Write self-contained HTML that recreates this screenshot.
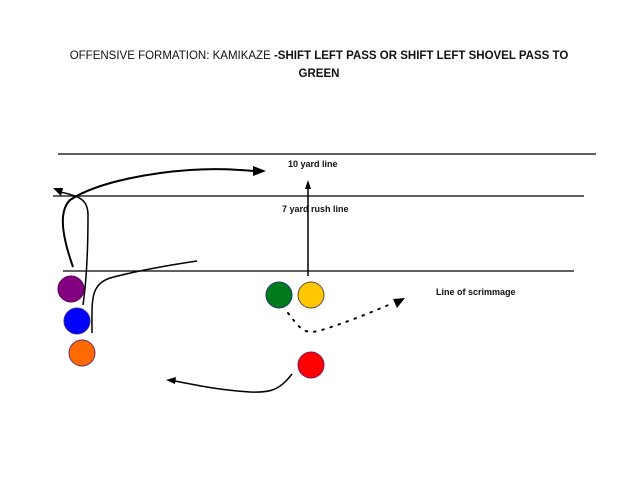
<!DOCTYPE html>
<html><head><style>body{margin:0;background:#fff}</style></head><body>
<svg width="638" height="479" xmlns="http://www.w3.org/2000/svg" style="display:block">
<rect width="638" height="479" fill="#fff"/>
<text x="319" y="59" text-anchor="middle" font-family="Liberation Sans, sans-serif" font-size="11.5" fill="#111">OFFENSIVE FORMATION: KAMIKAZE <tspan font-weight="bold">-SHIFT LEFT PASS OR  SHIFT LEFT SHOVEL PASS TO</tspan></text>
<text x="319" y="77" text-anchor="middle" font-family="Liberation Sans, sans-serif" font-size="11.5" font-weight="bold" fill="#111">GREEN</text>
<g stroke="#000" stroke-width="1.2">
<line x1="58" y1="154" x2="596" y2="154"/>
<line x1="53" y1="196" x2="584" y2="196"/>
<line x1="63" y1="271" x2="574" y2="271"/>
</g>
<g font-family="Liberation Sans, sans-serif" font-size="9" font-weight="bold" fill="#111">
<text x="288" y="167">10 yard line</text>
<text x="282" y="212">7 yard rush line</text>
<text x="436" y="295">Line of scrimmage</text>
</g>
<g fill="none" stroke="#000" stroke-width="2">
<path d="M73 267 C60 230 60 210 70 200 C100 180 160 172 190 170 C220 168 240 170 255 171"/>
</g>
<polygon points="266,171 253,166 253,176" fill="#000"/>
<g fill="none" stroke="#000" stroke-width="1.5">
<path d="M83 305 C88 270 88 230 88 215 C88 200 80 196 60 192"/>
<path d="M92 333 C92 300 90 285 110 278 C140 270 170 265 197 261"/>
<line x1="308" y1="276" x2="308" y2="188"/>
<path d="M292 374 C280 390 270 393 250 392 C220 390 200 386 175 381"/>
</g>
<polygon points="53,188 63,188 61,196" fill="#000"/>
<polygon points="308,180 305,189 311,189" fill="#000"/>
<polygon points="166,380 176,377 175,384" fill="#000"/>
<path d="M288 313 C298 325 302 335 318 331 C340 325 370 313 393 303" fill="none" stroke="#000" stroke-width="2" stroke-dasharray="1.5,7" stroke-linecap="round"/>
<polygon points="405,298 393,299 397,308" fill="#000"/>
<g stroke-width="1">
<circle cx="71" cy="289" r="13" fill="#800080" stroke="#5a005a"/>
<circle cx="77" cy="321" r="13" fill="#0000ff" stroke="#3a2a8a"/>
<circle cx="82" cy="353" r="13" fill="#ff6a00" stroke="#6a2a6a"/>
<circle cx="279" cy="295" r="13" fill="#007a1a" stroke="#1a3a6a"/>
<circle cx="311" cy="295" r="13" fill="#ffc800" stroke="#5a4a4a"/>
<circle cx="311" cy="365" r="13" fill="#ff0000" stroke="#7a1a5a"/>
</g>
</svg>
</body></html>
